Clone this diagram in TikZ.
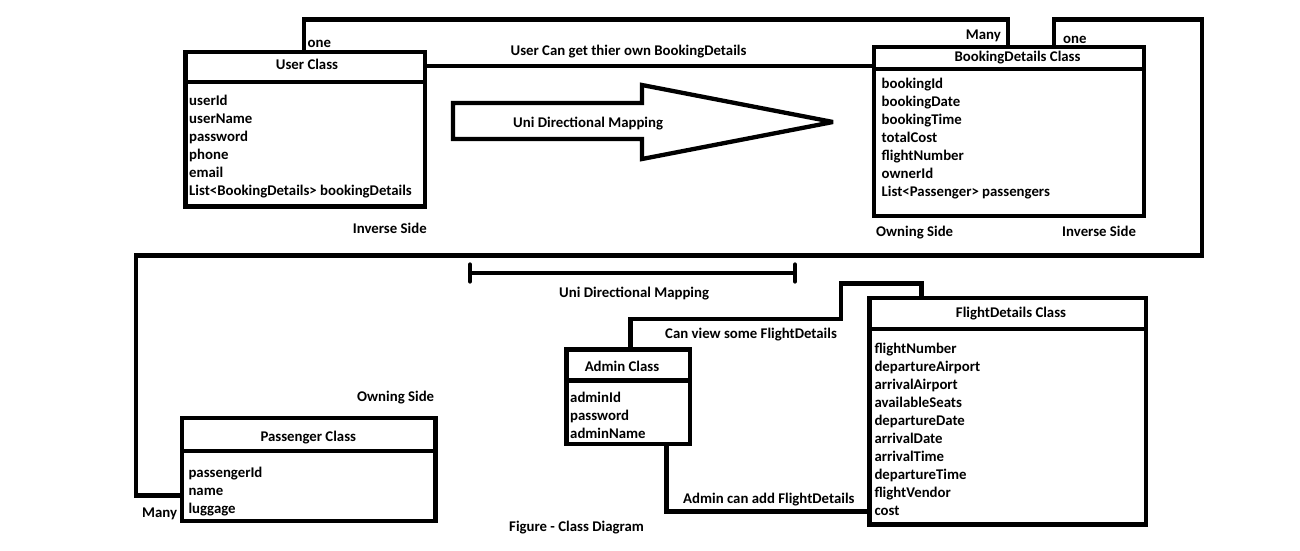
\documentclass[tikz,border=0pt]{standalone}
\usepackage{fontspec}
\setmainfont{Carlito}
\begin{document}
\begin{tikzpicture}[x=1pt,y=-1pt,
  ln/.style={line width=4.3pt, draw=black},
  cls/.style={ln, rectangle, inner sep=0pt, outer sep=0pt, fill=white},
  lbl/.style={font=\fontsize{14.8}{17}\selectfont\bfseries, inner sep=0pt, anchor=base west},
  ttl/.style={lbl, anchor=base}]
\useasboundingbox[fill=white] (0,0) rectangle (1300,550);

% named coordinates for connector routes
\coordinate (topA) at (0,19.5);
\coordinate (midA) at (0,66);
\coordinate (r1) at (1202,19.5);
\coordinate (r2) at (1202,255.5);
\coordinate (l1) at (136,255.5);
\coordinate (l2) at (136,495.5);
\coordinate (a1) at (841,319);
\coordinate (a2) at (921.5,283.5);
\coordinate (b1) at (0,511.5);
\coordinate (m1) at (470,273);
\coordinate (m2) at (795,273);

% boxes (shapes)
\node[cls, minimum width=239.5pt, minimum height=154.5pt] (user) at (305.25,129.25) {};
\node[cls, minimum width=270pt, minimum height=169pt] (book) at (1009,131.5) {};
\node[cls, minimum width=253.5pt, minimum height=103pt] (pass) at (308.75,469.5) {};
\node[cls, minimum width=123.5pt, minimum height=94.5pt] (admin) at (628.25,396.75) {};
\node[cls, minimum width=276.5pt, minimum height=226.5pt] (flight) at (1007.75,411.25) {};

% dividers
\coordinate (ud) at (0,82);
\coordinate (bd) at (0,69);
\coordinate (pd) at (0,451);
\coordinate (ad) at (0,380.5);
\coordinate (fd) at (0,329);
\draw[ln] (user.west |- ud) -- (user.east |- ud);
\draw[ln] (book.west |- bd) -- (book.east |- bd);
\draw[ln] (pass.west |- pd) -- (pass.east |- pd);
\draw[ln] (admin.west |- ad) -- (admin.east |- ad);
\draw[ln] (flight.west |- fd) -- (flight.east |- fd);

% connectors
\draw[ln] ([xshift=-1.25pt]user.north) -- ([xshift=-1.25pt]user.north |- topA) -- ([xshift=-1pt]book.north |- topA) -- ([xshift=-1pt]book.north);
\draw[ln] (user.east |- midA) -- (book.west |- midA);
\draw[ln] ([xshift=45pt]book.north) |- (r1) -- (r2) -- (l1) -- (l2) -- (pass.west |- l2);
\draw[ln] ([xshift=2.25pt]admin.north) |- (a1) |- (a2) -- (a2 |- flight.north);
\draw[ln] ([xshift=38.25pt]admin.south) |- (flight.west |- b1);

% uni directional line with end ticks
\draw[ln] (m1) -- (m2);
\draw[ln, line cap=round] ([yshift=8.5pt]m1) -- ([yshift=-8.5pt]m1);
\draw[ln, line cap=round] ([yshift=8.5pt]m2) -- ([yshift=-8.5pt]m2);

% big arrow
\draw[ln, miter limit=2] (453,103) -- (642,103) -- (642,85) -- (833,122) -- (642,159) -- (642,139) -- (453,139) -- cycle;
\node[lbl] (arrtxt) at (513,127) {Uni Directional Mapping};

% titles
\node[ttl] (usert) at (307,69.5) {User Class};
\node[ttl] (bookt) at (1017.5,61.7) {BookingDetails Class};
\node[ttl] (flightt) at (1011,317.7) {FlightDetails Class};
\node[ttl] (admint) at (622,371.7) {Admin Class};
\node[ttl] (passt) at (308.3,441.7) {Passenger Class};

% attributes
\foreach \t [count=\i from 0] in {userId,userName,password,phone,email,List<BookingDetails> bookingDetails}
  \node[lbl] (u\i) at (189,105.5+18*\i) {\t};
\foreach \t [count=\i from 0] in {bookingId,bookingDate,bookingTime,totalCost,flightNumber,ownerId,List<Passenger> passengers}
  \node[lbl] (b\i) at (881.5,88.5+18*\i) {\t};
\foreach \t [count=\i from 0] in {adminId,password,adminName}
  \node[lbl] (a\i) at (570,402.5+18*\i) {\t};
\foreach \t [count=\i from 0] in {flightNumber,departureAirport,arrivalAirport,availableSeats,departureDate,arrivalDate,arrivalTime,departureTime,flightVendor,cost}
  \node[lbl] (f\i) at (874.3,353.5+18*\i) {\t};
\foreach \t [count=\i from 0] in {passengerId,name,luggage}
  \node[lbl] (p\i) at (188.3,477.5+18*\i) {\t};

% labels
\node[lbl] (one1) at (307.5,47.3) {one};
\node[lbl, anchor=base east] (many1) at (1001,39.3) {Many};
\node[ttl] (ucan) at (628.5,55.5) {User Can get thier own BookingDetails};
\node[lbl] (one2) at (1063,43.3) {one};
\node[lbl] (inv1) at (352.7,233.5) {Inverse Side};
\node[lbl] (own1) at (876,236.5) {Owning Side};
\node[lbl] (inv2) at (1062,236) {Inverse Side};
\node[lbl] (uni2) at (559,297.3) {Uni Directional Mapping};
\node[lbl] (canv) at (665,338.3) {Can view some FlightDetails};
\node[lbl] (own2) at (357,401.7) {Owning Side};
\node[lbl] (addf) at (683,503.3) {Admin can add FlightDetails};
\node[lbl] (many2) at (142,517.3) {Many};
\node[lbl] (fig) at (509,531.5) {Figure - Class Diagram};
\end{tikzpicture}
\end{document}
